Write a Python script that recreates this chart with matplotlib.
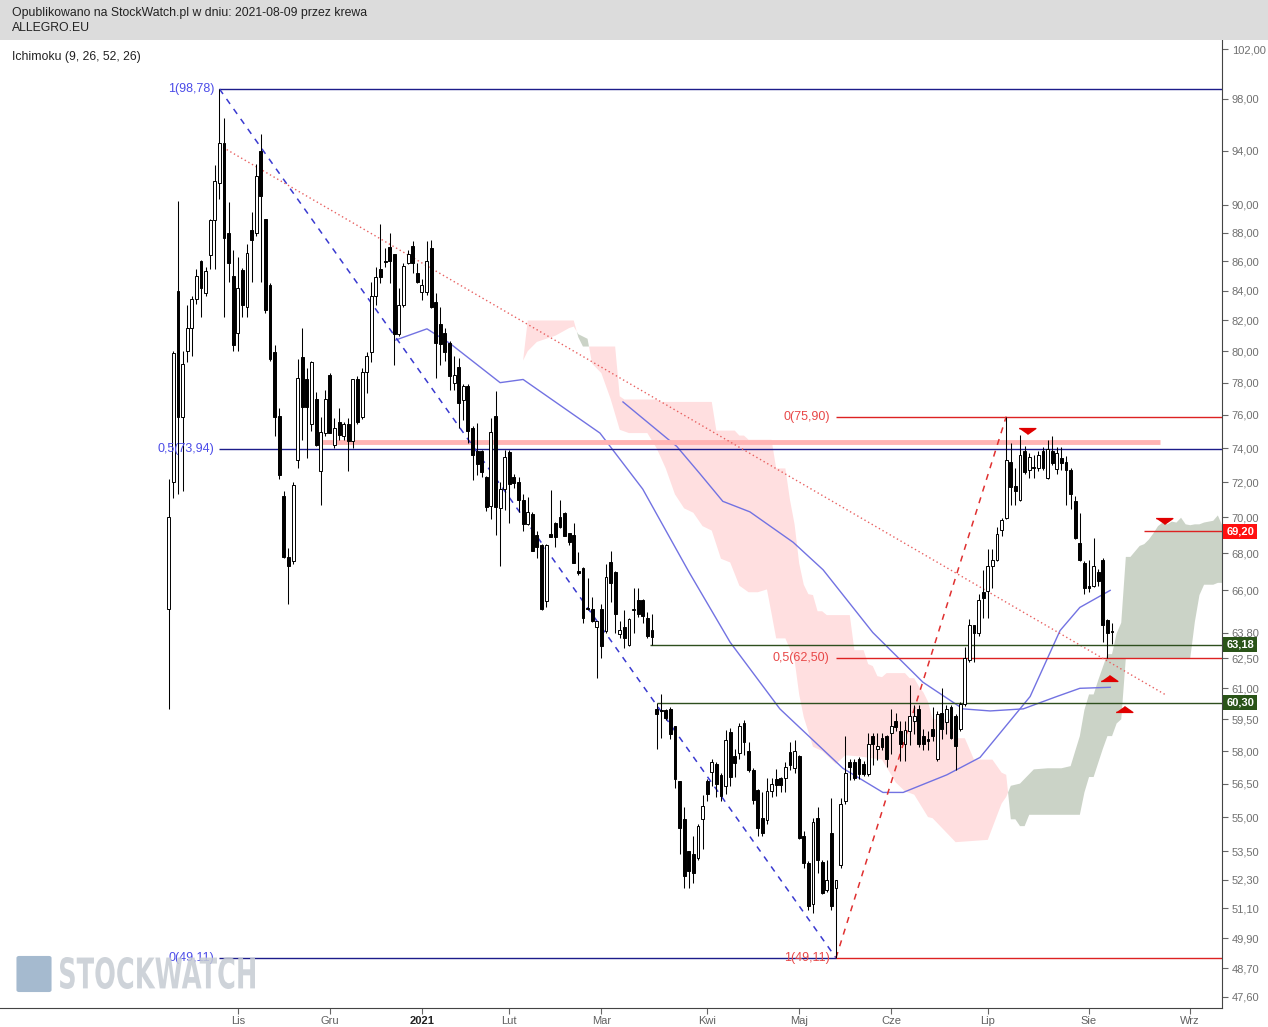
import numpy as np
import matplotlib.pyplot as plt
from matplotlib.patches import Rectangle, FancyBboxPatch, PathPatch
from matplotlib.ticker import NullLocator
from matplotlib.textpath import TextPath
from matplotlib.font_manager import FontProperties
import matplotlib.transforms as mtransforms

plt.rcParams['font.family'] = ['Liberation Sans', 'DejaVu Sans']

# Notowania ALLEGRO.EU (sesje od IPO do 2021-08-09)
opens = [65.0, 72.0, 84.0, 75.9, 80.0, 81.5, 83.4, 86.0, 83.8, 86.4,
         88.9, 91.6, 94.6, 88.0, 85.0, 81.2, 85.4, 82.9, 88.2, 88.0,
         94.0, 88.95, 84.4, 79.95, 75.95, 71.2, 67.8, 67.6, 73.3, 79.6,
         78.2, 75.45, 77.0, 72.65, 74.9, 78.5, 74.2, 75.6, 74.7, 75.45,
         74.4, 78.2, 75.9, 78.65, 79.95, 83.6, 85.5, 86.0, 87.0, 86.5,
         81.1, 83.0, 85.9, 87.05, 85.2, 83.9, 83.9, 86.9, 83.2, 81.75,
         81.2, 80.5, 78.0, 79.0, 76.9, 77.8, 75.2, 73.8, 73.8, 72.3,
         70.65, 75.95, 70.5, 71.6, 73.76, 72.3, 72.0, 70.95, 69.6, 70.2,
         69.0, 68.45, 65.45, 69.05, 69.7, 70.0, 70.25, 69.1, 69.0, 67.05,
         67.2, 65.05, 65.0, 64.08, 65.0, 63.9, 67.5, 67.0, 63.7, 64.1,
         63.15, 64.95, 65.5, 65.5, 64.55, 63.95, 60.0, 59.95, 59.95, 60.0,
         59.2, 56.6, 54.9, 53.5, 53.4, 53.2, 54.9, 56.6, 57.05, 57.4,
         56.9, 56.4, 58.9, 57.75, 57.9, 59.3, 58.0, 57.1, 56.2, 54.95,
         54.85, 56.15, 56.7, 56.75, 56.75, 57.95, 57.2, 57.75, 54.15, 53.0,
         51.3, 54.95, 53.05, 51.85, 54.3, 51.95, 52.9, 55.7, 57.5, 57.5,
         57.65, 57.4, 56.95, 58.7, 58.1, 58.6, 58.7, 58.85, 59.4, 58.95,
         58.35, 58.95, 59.4, 60.0, 58.7, 58.55, 59.05, 57.65, 59.8, 59.35,
         60.1, 59.65, 59.05, 60.25, 62.4, 64.2, 63.8, 65.9, 65.95, 67.3,
         67.65, 69.3, 69.95, 73.2, 71.8, 71.0, 73.85, 72.7, 72.9, 72.85,
         73.85, 72.25, 73.85, 72.75, 73.4, 73.2, 72.7, 70.9, 68.55, 67.45,
         66.25, 66.25, 67.0, 67.65, 64.45, 63.9]
highs = [72.2, 80.0, 90.3, 80.0, 83.0, 83.6, 85.5, 86.1, 85.6, 89.0,
         92.9, 98.78, 96.5, 90.2, 86.8, 86.3, 85.55, 87.2, 89.5, 93.0,
         95.3, 89.0, 84.5, 80.4, 76.4, 71.5, 68.3, 72.0, 79.5, 81.5,
         78.9, 79.4, 77.4, 75.9, 77.55, 78.6, 75.8, 76.4, 75.6, 75.8,
         78.2, 78.4, 78.95, 79.95, 84.6, 85.6, 88.6, 86.9, 88.0, 86.5,
         84.2, 85.9, 86.75, 87.4, 85.9, 84.75, 87.4, 87.5, 83.85, 82.9,
         81.5, 80.65, 79.7, 79.55, 77.9, 77.9, 75.3, 75.5, 73.9, 72.35,
         75.8, 77.45, 72.0, 73.9, 73.9, 72.45, 72.3, 71.3, 71.15, 70.3,
         69.2, 68.5, 68.5, 71.55, 69.75, 71.0, 70.3, 69.1, 69.65, 68.05,
         67.25, 66.65, 65.65, 64.4, 65.3, 67.4, 68.15, 67.05, 64.4, 64.95,
         64.55, 66.1, 66.15, 65.55, 64.85, 64.75, 60.3, 60.7, 60.0, 60.1,
         59.2, 56.6, 55.45, 53.5, 54.15, 54.7, 56.0, 56.7, 57.65, 57.5,
         57.0, 59.0, 59.1, 58.1, 59.3, 59.45, 58.4, 57.2, 56.25, 56.1,
         56.75, 56.75, 57.15, 56.8, 57.5, 58.4, 58.5, 57.8, 54.4, 53.1,
         54.95, 55.45, 53.15, 53.15, 55.85, 52.3, 55.85, 58.7, 57.65, 57.65,
         57.7, 57.55, 58.85, 58.85, 58.85, 58.85, 58.75, 60.0, 59.8, 59.4,
         59.4, 61.15, 60.2, 60.2, 59.05, 58.95, 60.1, 59.9, 61.0, 60.2,
         60.2, 59.75, 60.35, 63.05, 64.5, 64.2, 65.8, 67.1, 68.25, 68.25,
         69.45, 69.95, 75.9, 74.3, 72.8, 74.8, 74.15, 73.7, 73.6, 73.8,
         74.05, 74.5, 74.7, 74.05, 74.05, 73.55, 72.8, 71.2, 70.25, 67.55,
         67.65, 68.85, 67.15, 67.75, 64.5, 64.3]
lows = [60.0, 71.1, 71.3, 71.5, 79.3, 79.7, 83.1, 82.2, 83.6, 85.5,
        85.5, 90.4, 82.2, 84.6, 80.0, 80.0, 82.2, 82.2, 84.6, 87.8,
        84.6, 82.5, 79.4, 74.7, 72.2, 67.75, 65.3, 67.4, 72.8, 74.5,
        73.4, 75.0, 74.1, 70.7, 74.7, 74.9, 74.0, 74.5, 74.5, 72.65,
        74.0, 75.45, 75.75, 77.35, 79.3, 83.0, 84.5, 85.6, 84.5, 79.1,
        81.0, 82.9, 85.8, 85.2, 84.5, 83.35, 83.7, 82.8, 78.3, 79.1,
        79.4, 77.55, 77.55, 75.2, 75.7, 74.3, 72.1, 72.4, 72.3, 70.35,
        69.9, 69.0, 67.3, 70.4, 69.7, 71.64, 70.3, 69.25, 69.55, 68.15,
        67.75, 64.95, 65.1, 68.9, 68.35, 69.4, 68.95, 68.45, 67.45, 66.8,
        64.3, 64.95, 64.35, 61.5, 62.5, 63.75, 65.4, 63.75, 63.5, 63.0,
        63.1, 63.75, 64.6, 64.3, 63.5, 63.18, 58.1, 58.6, 59.45, 58.55,
        56.3, 53.4, 51.95, 51.95, 52.15, 53.15, 53.6, 55.7, 56.4, 55.9,
        55.7, 56.05, 56.4, 56.8, 57.65, 57.8, 57.05, 55.6, 54.15, 54.15,
        54.7, 55.9, 55.95, 56.1, 56.1, 57.1, 57.0, 54.05, 52.8, 51.05,
        50.9, 52.6, 51.7, 51.8, 51.05, 49.11, 52.8, 55.6, 56.65, 56.65,
        56.7, 56.85, 56.85, 57.35, 57.6, 58.05, 57.25, 57.85, 58.95, 57.55,
        57.55, 58.3, 58.8, 58.2, 58.05, 58.05, 58.45, 57.55, 58.55, 58.8,
        58.55, 57.1, 58.95, 60.15, 62.3, 62.3, 63.6, 64.55, 64.55, 66.1,
        67.55, 68.95, 69.9, 70.7, 70.7, 70.9, 72.5, 72.25, 72.25, 72.65,
        72.7, 72.2, 73.0, 72.45, 72.7, 70.7, 70.45, 68.8, 67.55, 65.8,
        65.9, 66.2, 66.25, 63.3, 62.5, 63.2]
closes = [70.0, 79.9, 75.9, 79.2, 81.5, 83.4, 85.0, 84.2, 85.3, 88.9,
          91.7, 94.6, 87.6, 85.9, 80.4, 84.2, 83.0, 86.6, 87.5, 92.1,
          90.6, 82.7, 79.5, 75.85, 72.4, 67.8, 67.3, 71.86, 78.3, 76.5,
          76.5, 79.3, 74.2, 74.97, 77.0, 74.9, 75.2, 74.8, 75.45, 74.4,
          78.2, 75.55, 78.65, 79.7, 83.6, 84.9, 84.9, 85.95, 86.0, 81.1,
          83.0, 85.7, 86.5, 85.9, 84.6, 84.35, 86.0, 82.9, 80.55, 80.45,
          79.95, 78.4, 78.5, 76.75, 77.8, 75.0, 73.6, 73.05, 72.6, 70.6,
          74.95, 70.55, 71.6, 73.5, 71.9, 71.95, 71.0, 69.6, 70.3, 68.15,
          68.35, 65.0, 68.45, 68.9, 68.9, 69.45, 68.95, 68.6, 67.45, 66.95,
          64.55, 65.0, 64.4, 64.4, 63.1, 66.7, 66.4, 64.75, 63.95, 63.5,
          64.5, 65.0, 64.75, 64.65, 63.6, 63.55, 59.75, 59.9, 59.55, 58.8,
          56.7, 54.5, 52.45, 52.65, 52.6, 54.6, 55.5, 56.05, 57.5, 56.5,
          55.95, 58.5, 56.8, 57.45, 59.2, 58.4, 57.1, 55.75, 54.5, 54.3,
          56.15, 56.5, 56.45, 56.45, 57.25, 57.35, 58.0, 54.1, 53.0, 51.2,
          54.8, 53.15, 51.75, 52.3, 51.2, 52.3, 55.6, 57.0, 57.25, 56.75,
          56.95, 56.95, 58.35, 58.35, 58.25, 58.2, 57.65, 59.2, 59.15, 58.35,
          59.0, 59.65, 59.65, 58.35, 58.35, 58.45, 58.7, 59.75, 59.05, 60.0,
          58.6, 58.25, 60.25, 62.5, 64.2, 63.8, 65.5, 65.6, 67.3, 67.65,
          69.05, 69.85, 73.3, 71.7, 71.5, 73.6, 72.6, 73.5, 72.85, 73.6,
          72.85, 73.95, 73.1, 73.7, 73.1, 72.7, 71.3, 68.85, 67.65, 66.1,
          66.1, 67.3, 66.5, 64.2, 63.8, 63.85]

# Chmura Ichimoku: Senkou Span A i B (punkty zalamania)
span_a_idx = [77, 78, 80, 84, 87, 88, 89, 91, 92, 94, 96, 98, 100, 104, 106, 108,
              110, 112, 114, 116, 118, 120, 122, 124, 126, 128, 130, 132, 134, 136,
              137, 138, 140, 142, 145, 147, 150, 155, 158, 160, 162, 165, 166, 171,
              178, 181, 182, 183, 185, 188, 191, 194, 196, 197, 198, 199, 200, 201,
              202, 203, 204, 205, 206, 207, 208, 209, 210, 211, 212, 213, 214, 215,
              216, 217, 218, 219, 220, 221, 222, 223, 224, 225, 227, 228, 229]
span_a_val = [79.4, 80.0, 80.6, 81.0, 81.5, 81.6, 81.1, 80.8, 79.2, 78.6, 77.0, 75.1,
              74.9, 74.9, 74.0, 72.8, 71.3, 70.5, 70.25, 69.5, 69.25, 67.7, 67.5,
              66.25, 65.9, 65.9, 66.05, 63.5, 63.5, 62.4, 60.7, 59.6, 58.2, 58.0,
              57.4, 57.8, 57.75, 57.6, 56.55, 56.15, 56.0, 55.0, 54.95, 53.9, 54.0,
              55.6, 55.9, 56.4, 56.5, 57.15, 57.2, 57.2, 57.3, 58.0, 58.7, 59.95,
              60.7, 60.7, 61.4, 62.05, 62.7, 62.7, 63.75, 64.3, 67.8, 67.8, 68.1,
              68.4, 68.5, 68.75, 69.1, 69.5, 69.7, 69.6, 69.75, 69.7, 69.97, 69.6,
              69.55, 69.6, 69.6, 69.7, 69.8, 70.1, 69.5]
span_b_idx = [77, 78, 88, 89, 90, 97, 98, 99, 106, 107, 118, 119, 123, 124, 125, 126,
              131, 132, 134, 135, 136, 137, 138, 139, 140, 141, 142, 143, 148, 149,
              151, 152, 153, 154, 155, 156, 160, 161, 162, 163, 164, 165, 166, 170,
              171, 173, 174, 175, 179, 180, 181, 182, 183, 184, 185, 186, 187, 198,
              199, 200, 201, 202, 203, 204, 205, 206, 207, 208, 222, 223, 224, 225,
              227, 228, 229]
span_b_val = [79.4, 82.0, 82.0, 80.9, 80.3, 80.3, 77.15, 76.95, 76.95, 76.8, 76.8,
              75.05, 75.05, 74.75, 74.75, 74.5, 74.5, 72.8, 72.8, 70.98, 69.6, 67.45,
              66.3, 65.8, 65.75, 64.9, 64.9, 64.7, 64.7, 62.9, 62.9, 62.2, 62.1, 61.6,
              61.55, 61.75, 61.75, 61.5, 61.5, 61.1, 60.8, 60.35, 59.5, 59.5, 58.6,
              58.6, 58.1, 57.6, 57.6, 57.3, 57.0, 56.9, 54.9, 54.9, 54.6, 54.6, 55.1,
              55.1, 56.1, 56.8, 56.8, 57.45, 58.1, 58.7, 58.7, 59.3, 59.5, 62.5, 62.5,
              64.35, 65.75, 66.3, 66.3, 66.4, 66.4]

# Srednie kroczace (odczyt punktow z wykresu)
ma1_idx = [49.1, 56.1, 61.1, 72.0, 77.0, 93.7, 103.0, 113.0, 122.0, 132.8,
           146.5, 155.2, 159.6, 169.1, 176.3, 187.2, 193.7, 198.0, 204.6]
ma1_val = [80.7, 81.45, 80.5, 78.0, 78.2, 74.9, 71.6, 67.0, 63.3, 60.0,
           57.2, 56.1, 56.1, 56.9, 57.7, 60.6, 63.9, 65.1, 66.0]
ma2_idx = [98.7, 110.4, 115.4, 120.4, 126.3, 135.7, 142.2, 153.0, 163.9,
           172.6, 178.5, 185.7, 193.0, 198.0, 204.6]
ma2_val = [76.8, 74.1, 72.5, 70.9, 70.3, 68.6, 67.1, 63.8, 61.3, 60.0, 59.9,
           60.0, 60.6, 61.0, 61.05]

month_idx = [15, 35, 55, 74, 94, 117, 137, 157, 178, 200, 222]
month_lbl = ['Lis', 'Gru', '2021', 'Lut', 'Mar', 'Kwi', 'Maj', 'Cze', 'Lip', 'Sie', 'Wrz']

ytick_vals = [102, 98, 94, 90, 88, 86, 84, 82, 80, 78, 76, 74, 72, 70, 68, 66,
              63.8, 62.5, 61, 59.5, 58, 56.5, 55, 53.5, 52.3, 51.1, 49.9, 48.7, 47.6]

# Fibonacci i linie pomocnicze
fib_blue = [98.78, 73.94, 49.11]
fib_red = [75.90, 62.50, 49.11]
gap_lines = [63.18, 60.30]

fig = plt.figure(figsize=(12.68, 10.27), dpi=100)
ax = fig.add_axes([0, 19 / 1027, 1222 / 1268, 968 / 1027])
ax.set_yscale('log')
ax.set_ylim(47.17, 102.75)
ax.set_xlim(-36.7, 228.9)

# naglowek
fig.patches.append(Rectangle((0, 1 - 40 / 1027), 1, 40 / 1027, transform=fig.transFigure,
                             facecolor='#dcdcdc', edgecolor='none', zorder=0))
fig.text(12 / 1268, 1 - 13 / 1027, 'Opublikowano na StockWatch.pl w dniu: 2021-08-09 przez krewa',
         fontsize=8.8, color='#222222', va='center')
fig.text(12 / 1268, 1 - 28 / 1027, 'ALLEGRO.EU', fontsize=8.8, color='#222222', va='center')
ax.text(12 / 1222, 1 - 17 / 968, 'Ichimoku (9, 26, 52, 26)', transform=ax.transAxes,
        fontsize=8.8, color='#222222', va='center')

# chmura: obie linie na wspolnej siatce punktow
grid = np.union1d(span_a_idx, span_b_idx)
sa = np.interp(grid, span_a_idx, span_a_val)
sb = np.interp(grid, span_b_idx, span_b_val)
ax.fill_between(grid, sa, sb, where=sa <= sb, color='#ffdfe0', lw=0, interpolate=True, zorder=1)
ax.fill_between(grid, sa, sb, where=sa > sb, color='#cbd3c7', lw=0, interpolate=True, zorder=1)

# srednie
ax.plot(ma1_idx, ma1_val, color='#7272e2', lw=1.0, zorder=2)
ax.plot(ma2_idx, ma2_val, color='#7272e2', lw=1.0, zorder=2)

# pozioma strefa oporu
ax.hlines(74.37, 32.3, 215.4, color='#ffb4b4', lw=3.5, zorder=2)

# linie Fibonacciego
ax.hlines(fib_blue[0], 11, 228.9, color='#1c1c8a', lw=1, zorder=2)
ax.hlines(fib_blue[1], 11, 228.9, color='#1c1c8a', lw=1, zorder=2)
ax.hlines(fib_blue[2], 11, 145, color='#1c1c8a', lw=1, zorder=2)
ax.hlines(fib_red, 145, 228.9, color='#dd2222', lw=1, zorder=2)
ax.plot([11, 145], [98.78, 49.11], color='#3a3ad0', lw=1.1, ls=(0, (4, 4)), zorder=2)
ax.plot([145, 182], [49.11, 75.90], color='#e03030', lw=1.1, ls=(0, (4, 4)), zorder=2)
ax.plot([11, 216.5], [94.4, 60.7], color='#e86060', lw=1.0, ls=(0, (1, 2)), zorder=2)

blue_txt = '#4c4ce8'
red_txt = '#e84848'
for val, lbl in zip(fib_blue, ['1(98,78)', '0,5(73,94)', '0(49,11)']):
    ax.text(9.8, val, lbl, color=blue_txt, fontsize=9, ha='right', va='center', zorder=5)
for val, lbl in zip(fib_red, ['0(75,90)', '0,5(62,50)', '1(49,11)']):
    ax.text(143.6, val, lbl, color=red_txt, fontsize=9, ha='right', va='center', zorder=5)

# luka cenowa
ax.hlines(gap_lines[0], 104.6, 228.9, color='#2e4f1e', lw=1, zorder=2)
ax.hlines(gap_lines[1], 106, 228.9, color='#2e4f1e', lw=1, zorder=2)
ax.hlines(69.20, 212, 228.9, color='#dd2222', lw=1, zorder=2)

# sygnaly
tri_down = [(-1, 0.35), (1, 0.35), (0, -0.35)]
tri_up = [(-1, -0.35), (1, -0.35), (0, 0.35)]
ax.plot([186.5, 216.4], [75.05, 69.8], ls='none', marker=tri_down, color='#e00000', ms=12, zorder=6)
ax.plot([204.4, 207.5], [61.5, 60.0], ls='none', marker=tri_up, color='#e00000', ms=12, zorder=6)

# swiece
idx = np.arange(len(closes))
o = np.array(opens)
c = np.array(closes)
ax.vlines(idx, lows, highs, color='black', lw=0.75, zorder=3)
up = c >= o
bot = np.minimum(o, c)
hgt = np.maximum(np.abs(c - o), 0.05)
ax.bar(idx[up], hgt[up], bottom=bot[up], width=0.62, color='white',
       edgecolor='black', lw=0.7, zorder=4)
ax.bar(idx[~up], hgt[~up], bottom=bot[~up], width=0.62, color='black',
       edgecolor='black', lw=0.7, zorder=4)

# osie
for s in ['top', 'left']:
    ax.spines[s].set_visible(False)
ax.spines['right'].set_color('#444444')
ax.spines['bottom'].set_color('#444444')
ax.yaxis.set_ticks_position('right')
ax.set_yticks(ytick_vals)
ax.set_yticklabels([f'{v:.2f}'.replace('.', ',') for v in ytick_vals])
ax.yaxis.set_minor_locator(NullLocator())
ax.tick_params(axis='y', direction='out', length=4, width=0.8, color='#666666',
               labelsize=8, labelcolor='#707070', pad=3)
ax.set_xticks(month_idx)
ax.set_xticklabels(month_lbl)
ax.tick_params(axis='x', direction='out', length=4, width=0.8, color='#666666',
               labelsize=8, labelcolor='#606060', pad=2)
ax.get_xticklabels()[2].set_fontweight('bold')
ax.get_xticklabels()[2].set_color('#222222')

# etykiety poziomow na osi
tr = mtransforms.blended_transform_factory(ax.transAxes, ax.transData)
for val, bg in [(69.20, '#ff1010'), (63.18, '#2a5418'), (60.30, '#2a5418')]:
    ax.text(1.0035, val, f'{val:.2f}'.replace('.', ','), transform=tr, color='white',
            fontsize=8, fontweight='bold', va='center', ha='left', clip_on=False, zorder=7,
            bbox=dict(boxstyle='square,pad=0.25', facecolor=bg, edgecolor='none'))

# znak wodny (logo)
fig.patches.append(FancyBboxPatch((19 / 1268, 1 - 990 / 1027), 30 / 1268, 32 / 1027,
                                  boxstyle='round,pad=0.002', transform=fig.transFigure,
                                  facecolor='#8fa9c4', edgecolor='none', alpha=0.8, zorder=5))
tp = TextPath((0, 0), 'STOCKWATCH', size=1, prop=FontProperties(family='DejaVu Sans', weight='bold'))
ext = tp.get_extents()
sx = 195 / ext.width
sy = 32 / ext.height
wm = mtransforms.Affine2D().translate(-ext.x0, -ext.y0).scale(sx, sy).translate(60, 1027 - 989)
fig.patches.append(PathPatch(tp, transform=wm, facecolor='#c6ccd3', edgecolor='none',
                             alpha=0.85, zorder=5))

fig.savefig('out.png', dpi=100)
